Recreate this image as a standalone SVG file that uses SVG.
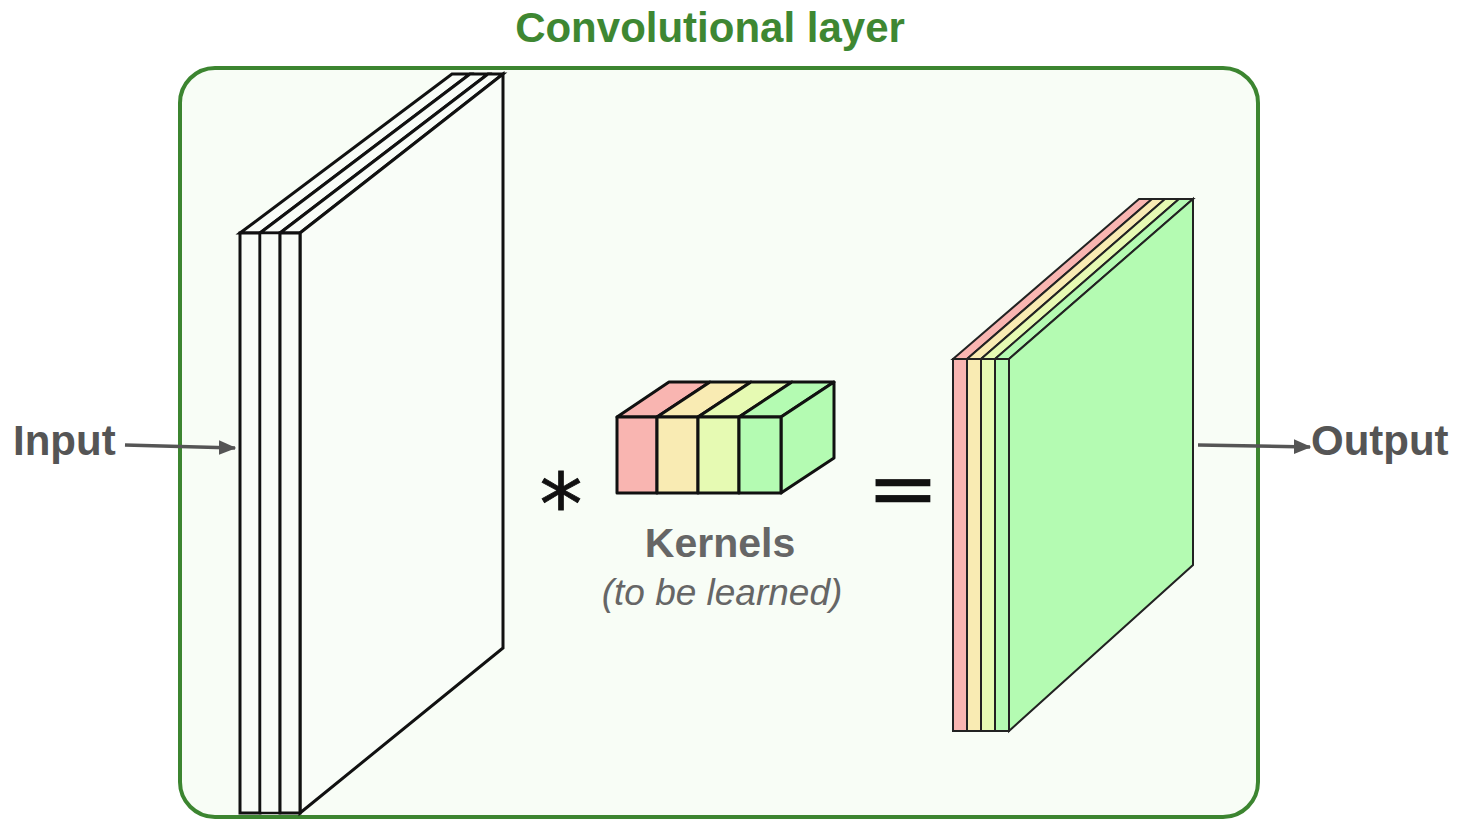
<svg xmlns="http://www.w3.org/2000/svg" width="1461" height="821" viewBox="0 0 1461 821">
<style>
.lbl{font-family:"Liberation Sans",Arial,sans-serif;font-weight:bold;fill:#555555;}
.in{fill:#f9fdf8;stroke:#111111;stroke-width:3;stroke-linejoin:miter;}
.out{stroke:#222222;stroke-width:2;stroke-linejoin:miter;}
.k{stroke:#111111;stroke-width:3;stroke-linejoin:round;}
.c1{fill:#f9b5b1;}
.c2{fill:#f9ebb3;}
.c3{fill:#e6fab3;}
.c4{fill:#b4fbb2;}
.conn{stroke:#555555;stroke-width:3.5;fill:none;}
</style>
<defs>
<marker id="ah" markerWidth="5" markerHeight="4.2" refX="4.6" refY="2.1" orient="auto" markerUnits="strokeWidth">
<path d="M0,0 L5,2.1 L0,4.2 Z" fill="#555555"/>
</marker>
</defs>
<rect width="1461" height="821" fill="#ffffff"/>
<g id="layer">
<rect x="180" y="68" width="1078" height="749" rx="35" ry="35" fill="#f8fdf6" stroke="#3c8530" stroke-width="4"/>
<text x="710" y="42" text-anchor="middle" font-family="'Liberation Sans',Arial,sans-serif" font-weight="bold" font-size="42" fill="#3e8732">Convolutional layer</text>
</g>
<g id="input-volume">
<polygon class="in" points="240,233 452,74 470,74 260,233"/>
<polygon class="in" points="260,233 470,74 488,74 280,233"/>
<polygon class="in" points="280,233 488,74 503,74 300,233"/>
<polygon class="in" points="300,233 503,74 503,648 300,813"/>
<rect class="in" x="240" y="233" width="20" height="580"/>
<rect class="in" x="260" y="233" width="20" height="580" style="stroke-width:2.5"/>
<rect class="in" x="280" y="233" width="20" height="580"/>
</g>
<g id="kernels">
<polygon class="k c1" points="617,417 669,382 710,382 657,417"/>
<polygon class="k c2" points="657,417 710,382 751,382 698,417"/>
<polygon class="k c3" points="698,417 751,382 792,382 739,417"/>
<polygon class="k c4" points="739,417 792,382 834,382 781,417"/>
<polygon class="k c4" points="781,417 834,382 834,458 781,493"/>
<rect class="k c1" x="617" y="417" width="40" height="76"/>
<rect class="k c2" x="657" y="417" width="41" height="76"/>
<rect class="k c3" x="698" y="417" width="41" height="76"/>
<rect class="k c4" x="739" y="417" width="42" height="76"/>
<text x="720" y="557" text-anchor="middle" class="lbl" font-size="41" style="fill:#666666">Kernels</text>
<text x="722" y="605" text-anchor="middle" font-family="'Liberation Sans',Arial,sans-serif" font-style="italic" font-size="37" fill="#666666">(to be learned)</text>
</g>
<g id="operators">
<text x="561" y="535" text-anchor="middle" font-family="'DejaVu Sans',sans-serif" font-size="86" fill="#111111" stroke="#111111" stroke-width="0.8">*</text>
<text x="903" y="516" text-anchor="middle" font-family="'DejaVu Sans',sans-serif" font-size="80" fill="#111111" stroke="#111111" stroke-width="0.6" transform="translate(903 0) scale(1.08 1) translate(-903 0)">=</text>
</g>
<g id="output-volume">
<polygon class="out c1" points="953,359 1139,199 1152,199 967,359"/>
<polygon class="out c2" points="967,359 1152,199 1165,199 981,359"/>
<polygon class="out c3" points="981,359 1165,199 1179,199 995,359"/>
<polygon class="out c4" points="995,359 1179,199 1193,199 1009,359"/>
<polygon class="out c4" points="1009,359 1193,199 1193,565 1009,731"/>
<rect class="out c1" x="953" y="359" width="14" height="372"/>
<rect class="out c2" x="967" y="359" width="14" height="372"/>
<rect class="out c3" x="981" y="359" width="14" height="372"/>
<rect class="out c4" x="995" y="359" width="14" height="372"/>
</g>
<g id="input-label">
<text x="13" y="455" class="lbl" font-size="42">Input</text>
</g>
<g id="output-label">
<text x="1311" y="455" class="lbl" font-size="42">Output</text>
</g>
<g id="connectors">
<line class="conn" x1="125" y1="445" x2="235" y2="448" marker-end="url(#ah)"/>
<line class="conn" x1="1198" y1="445" x2="1310" y2="447" marker-end="url(#ah)"/>
</g>
</svg>
